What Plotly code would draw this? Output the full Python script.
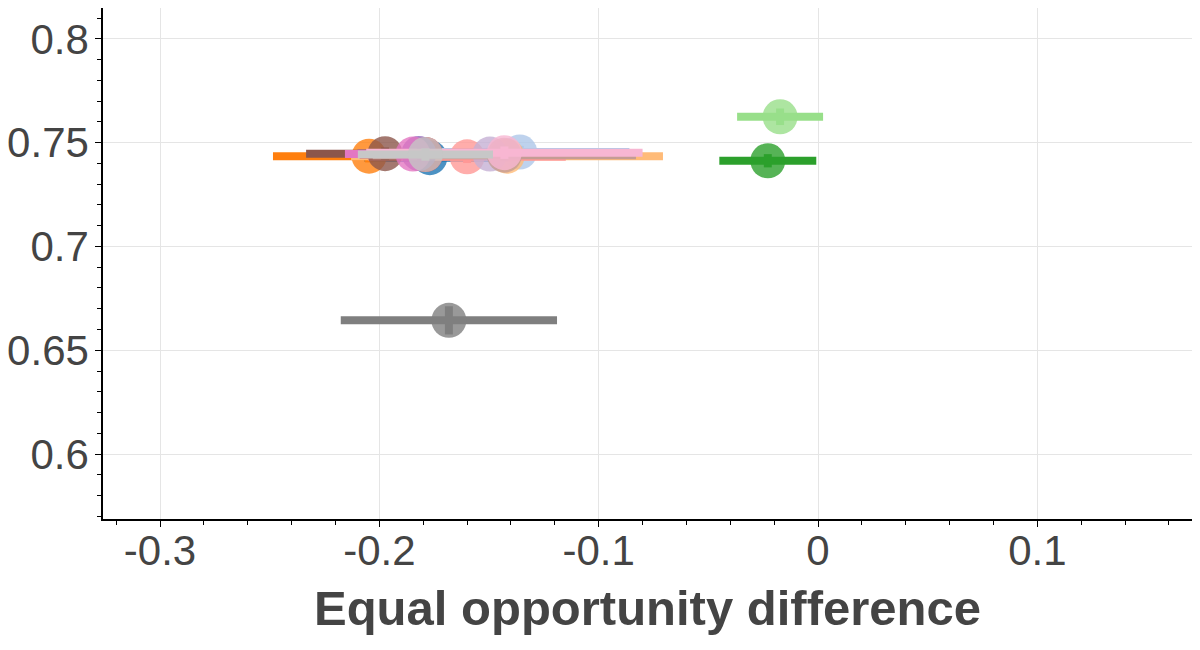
import plotly.graph_objects as go

# one point per model, tab20 colours
colors = ['#1f77b4', '#aec7e8', '#ff7f0e', '#ffbb78', '#2ca02c', '#98df8a',
          '#d62728', '#ff9896', '#9467bd', '#c5b0d5', '#8c564b', '#c49c94',
          '#e377c2', '#f7b6d2', '#7f7f7f', '#c7c7c7']
eod = [-0.177, -0.136, -0.2047, -0.1418, -0.0229, -0.0173,
       -0.179, -0.160, -0.182, -0.1496, -0.1974, -0.143,
       -0.1847, -0.143, -0.1683, -0.179]
eod_err = [0.030, 0.050, 0.0438, 0.0711, 0.0221, 0.0196,
           0.030, 0.045, 0.028, 0.050, 0.036, 0.060,
           0.031, 0.063, 0.0493, 0.0308]
acc = [0.7428, 0.7455, 0.7435, 0.7435, 0.7413, 0.7625,
       0.7443, 0.7432, 0.7448, 0.7445, 0.7447, 0.7440,
       0.7445, 0.7452, 0.6644, 0.7443]
acc_err = [0.003, 0.003, 0.003, 0.003, 0.0032, 0.004,
           0.003, 0.003, 0.003, 0.003, 0.003, 0.003,
           0.003, 0.003, 0.0068, 0.003]

x_ticks = [-0.3, -0.2, -0.1, 0, 0.1]
x_labels = ['-0.3', '-0.2', '-0.1', '0', '0.1']
y_ticks = [0.6, 0.65, 0.7, 0.75, 0.8]
y_labels = ['0.6', '0.65', '0.7', '0.75', '0.8']


def rgba(hex_color, a):
    h = hex_color.lstrip('#')
    return 'rgba(%d,%d,%d,%.2f)' % (int(h[0:2], 16), int(h[2:4], 16), int(h[4:6], 16), a)


fig = go.Figure()
for i, c in enumerate(colors):
    fig.add_trace(go.Scatter(
        x=[eod[i]], y=[acc[i]],
        mode='markers',
        marker=dict(size=35, color=rgba(c, 0.8), line=dict(width=0)),
        error_x=dict(type='data', array=[eod_err[i]], color=c, thickness=8, width=0),
        error_y=dict(type='data', array=[acc_err[i]], color=c, thickness=8, width=0),
        showlegend=False,
    ))

# the page body has an 8px margin, so the figure is sized to fit inside it
fig.update_layout(
    width=1184, height=642,
    margin=dict(l=95, r=0, t=0, b=131),
    plot_bgcolor='white', paper_bgcolor='white',
    font=dict(family='Liberation Sans, Arial, sans-serif', color='#444'),
    xaxis=dict(
        range=[-0.326, 0.1705], automargin=True,
        tickvals=x_ticks, ticktext=x_labels,
        tickfont=dict(size=42), ticklabelstandoff=-12,
        showgrid=True, gridcolor='#e5e5e5', zeroline=False,
        showline=True, linecolor='black', linewidth=1.5,
        ticks='outside', ticklen=6, tickcolor='black',
        minor=dict(dtick=0.02, tick0=0, ticks='outside', ticklen=4,
                   tickcolor='black', showgrid=False),
        title=dict(text='<b>Equal opportunity difference</b>',
                   font=dict(size=49, color='#444'), standoff=18),
    ),
    yaxis=dict(
        range=[0.5687, 0.8149], automargin=False,
        tickvals=y_ticks, ticktext=y_labels,
        tickfont=dict(size=42), ticklabelstandoff=-2,
        showgrid=True, gridcolor='#e5e5e5', zeroline=False,
        showline=True, linecolor='black', linewidth=1.5,
        ticks='outside', ticklen=6, tickcolor='black',
        minor=dict(dtick=0.01, tick0=0, ticks='outside', ticklen=4,
                   tickcolor='black', showgrid=False),
    ),
)

fig.write_html('out.html')
